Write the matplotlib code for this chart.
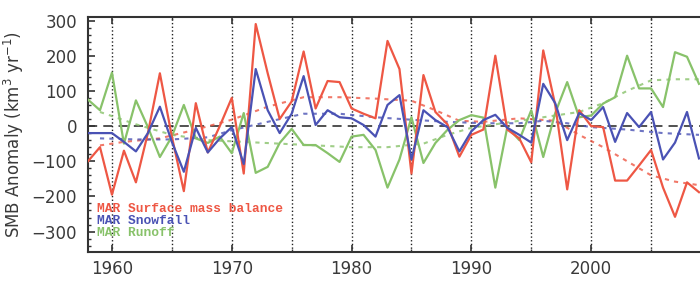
import numpy as np
import matplotlib
matplotlib.use('Agg')
import matplotlib.pyplot as plt
from matplotlib.ticker import MultipleLocator

years = list(range(1958, 2010))

# annual anomalies (km3/yr)
smb = [-100, -60, -195, -70, -160, -20, 150, -30, -185, 65,
       -75, 0, 80, -135, 290, 150, 20, 70, 212, 50,
       128, 125, 50, 35, 22, 242, 162, -135, 145, 40,
       5, -87, -25, -10, 200, -10, -35, -103, 215, 60,
       -180, 45, 0, -3, -155, -155, -112, -68, -175, -258,
       -160, -188]
snowfall = [-20, -20, -20, -45, -72, -20, 55, -45, -130, -5,
            -75, -35, -3, -108, 162, 45, -20, 35, 142, 3,
            45, 25, 22, 3, -30, 60, 88, -95, 45, 17,
            -3, -72, -15, 17, 32, -5, -25, -47, 120, 65,
            -40, 37, 17, 54, -45, 37, -3, 40, -95, -47,
            40, -92]
runoff = [75, 45, 152, -50, 73, -3, -88, -30, 60, -35,
          -48, -30, -77, 37, -133, -116, -48, -8, -54, -54,
          -77, -102, -30, -25, -68, -175, -95, 25, -105, -48,
          -11, 17, 31, 24, -175, -3, -40, 45, -88, 37,
          125, 25, 30, 64, 82, 200, 107, 107, 54, 210,
          197, 120]

# smoothed trends (dotted)
smb_trend_years = [1959, 1961, 1964, 1967, 1970, 1973, 1976, 1979, 1982, 1985,
                   1987, 1989, 1991, 1994, 1997, 1999, 2001, 2003, 2005, 2007, 2009]
smb_trend = [-55, -45, -35, -10, 18, 55, 82, 82, 78, 72,
             45, 15, 12, 22, 15, -25, -60, -100, -140, -158, -168]
snow_trend_years = [1959, 1962, 1965, 1968, 1970, 1973, 1976, 1979, 1982, 1985,
                    1988, 1991, 1994, 1996, 1998, 2000, 2003, 2006, 2009]
snow_trend = [-35, -38, -38, -32, -12, 12, 35, 35, 25, 18,
              12, 8, 8, 15, 8, -3, -10, -20, -25]
run_trend_years = [1959, 1962, 1965, 1968, 1971, 1974, 1977, 1980, 1983, 1986,
                   1988, 1990, 1993, 1996, 1999, 2001, 2003, 2005, 2007, 2009]
run_trend = [40, 5, -25, -40, -45, -50, -55, -60, -60, -50,
             -25, -5, 10, 25, 40, 65, 100, 130, 133, 133]

labels = ['MAR Surface mass balance', 'MAR Snowfall', 'MAR Runoff']
xtick_years = [1960, 1970, 1980, 1990, 2000]

red = '#ee5744'
blue = '#4a52b4'
green = '#88c26a'
txt = '#3a3a3a'

fig = plt.figure(figsize=(7, 2.81), dpi=100)
ax = fig.add_axes([88 / 700, 1 - 252 / 281, 52 * 11.98 / 700, 235 / 281])

for x in range(1960, 2010, 5):
    ax.axvline(x, color='#222222', lw=1.0, ls=':', zorder=1)
ax.axhline(0, color='#222222', lw=1.1, ls=(0, (6, 4)), zorder=1)

ax.plot(smb_trend_years, smb_trend, color=red, lw=1.5, ls=(0, (2, 2.5)), alpha=0.8, zorder=2)
ax.plot(snow_trend_years, snow_trend, color=blue, lw=1.5, ls=(0, (2, 2.5)), alpha=0.8, zorder=2)
ax.plot(run_trend_years, run_trend, color=green, lw=1.5, ls=(0, (2, 2.5)), alpha=0.8, zorder=2)

ax.plot(years, runoff, color=green, lw=1.6, zorder=3)
ax.plot(years, smb, color=red, lw=1.6, zorder=4)
ax.plot(years, snowfall, color=blue, lw=1.6, zorder=5)

ax.set_xlim(1958, 2010)
ax.set_ylim(-358, 310)
ax.set_xticks(xtick_years)
ax.xaxis.set_minor_locator(MultipleLocator(5))
ax.yaxis.set_major_locator(MultipleLocator(100))
ax.yaxis.set_minor_locator(MultipleLocator(20))
ax.tick_params(which='both', direction='in', top=True, right=True, colors='#333333',
               labelcolor=txt, labelsize=12)
ax.tick_params(which='major', length=5, width=1.2)
ax.tick_params(which='minor', length=2.5, width=1.0)
ax.tick_params(axis='y', pad=8)
ax.tick_params(axis='x', pad=6)
for s in ax.spines.values():
    s.set_color('#333333')
    s.set_linewidth(1.5)

ax.set_ylabel('SMB Anomaly (km$^3$ yr$^{-1}$)', fontsize=12, color=txt, labelpad=4)

for lab, col, yv in zip(labels, [red, blue, green], [-236, -270, -304]):
    ax.text(1958.75, yv, lab, color=col, fontsize=9.3, family='Liberation Mono',
            fontweight='bold', va='center', ha='left', zorder=6)

fig.savefig('out.png', dpi=100)
